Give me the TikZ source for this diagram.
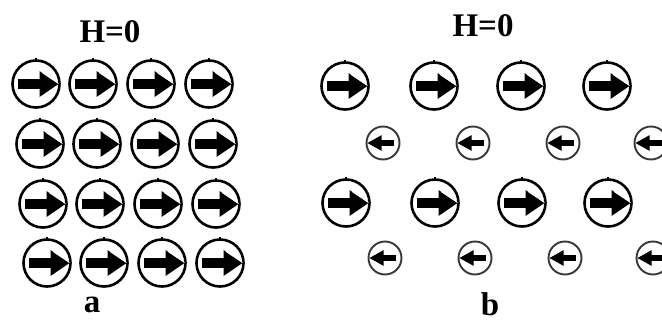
\documentclass[tikz,border=0pt]{standalone}
\usepackage{fontspec}
\setmainfont{Liberation Serif}
\begin{document}
\begin{tikzpicture}[x=1pt,y=-1pt,
  lbl/.style={font=\fontsize{33}{33}\selectfont\bfseries, inner sep=0pt},
  bigring/.style={draw=black, line width=2.6pt, circle, minimum size=47pt, inner sep=0pt},
  smallring/.style={draw=black!78, line width=1.9pt, circle, minimum size=33pt, inner sep=0pt},
  pics/upspin/.style={code={
    \fill[black] (-18,-5.2) rectangle (6,5.2);
    \fill[black] (3.5,-13) -- (22.5,0) -- (3.5,13) -- cycle;
    \draw[white, line width=0.8pt] (6,-11.5) -- (22.5,-0.5);
    \draw[black, line width=1.2pt] (0,-24) -- (0,-26.5);
  }},
  pics/downspin/.style={code={
    \fill[black] (-3,-2.9) rectangle (11,2.9);
    \fill[black] (-1.5,-7.8) -- (-15.5,0) -- (-1.5,7.8) -- cycle;
  }}
]
\useasboundingbox (0,0) rectangle (662,322);
\clip (0,0) rectangle (662,322);

% ---- panel a: all moments aligned ----
\node[lbl] (Ha) at (110,32) {H=0};
\foreach \r/\y/\dx in {1/84/0, 2/144/4, 3/204/7, 4/263/11}{
  \foreach \c/\x in {1/36, 2/93, 3/151, 4/209}{
    \node[bigring] (a\r\c) at (\x+\dx,\y) {};
    \pic at (a\r\c.center) {upspin};
  }
}
\node[lbl] (la) at (92,305) {a};

% ---- panel b: two antiparallel sublattices ----
\node[lbl] (Hb) at (483,26) {H=0};
\foreach \r/\y/\dx in {1/86/0, 2/203/1}{
  \foreach \c/\x in {1/345, 2/434, 3/521, 4/607}{
    \node[bigring] (b\r\c) at (\x+\dx,\y) {};
    \pic at (b\r\c.center) {upspin};
  }
}
\foreach \r/\y/\dx in {1/143/0, 2/258/2}{
  \foreach \c/\x in {1/383, 2/473, 3/563, 4/651}{
    \node[smallring] (s\r\c) at (\x+\dx,\y) {};
    \pic at (s\r\c.center) {downspin};
  }
}
\node[lbl] (lb) at (490,304) {b};
\end{tikzpicture}
\end{document}
